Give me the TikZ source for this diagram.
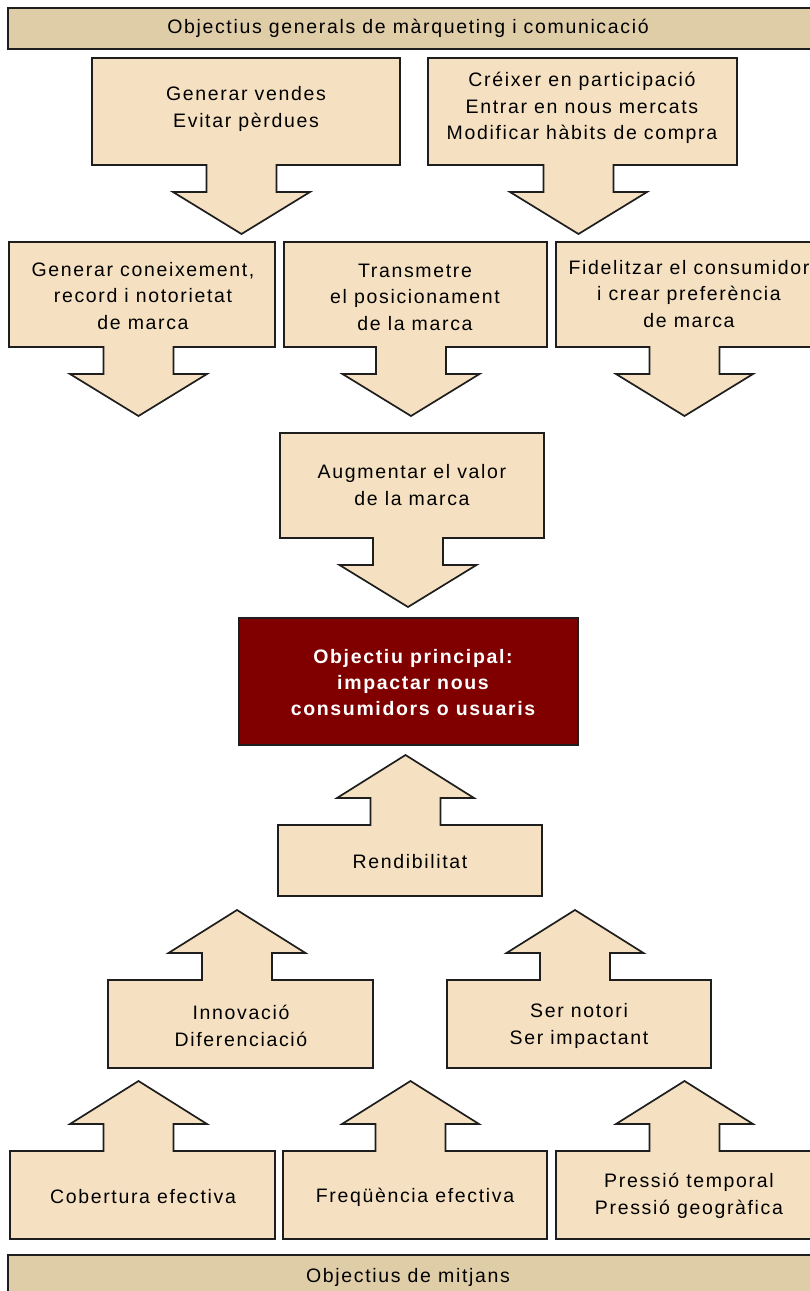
\documentclass[tikz,border=0pt]{standalone}
\usepackage{fontspec}
\setmainfont{Liberation Sans}[LetterSpace=8.5]
\definecolor{boxfill}{HTML}{F5E1C1}
\definecolor{barfill}{HTML}{DFCDA8}
\definecolor{mainred}{HTML}{800000}
\definecolor{edgecol}{HTML}{1E1E1E}
\tikzset{
  shapebox/.style={draw=edgecol, fill=boxfill, line width=1.7pt, line join=miter},
  barbox/.style={draw=edgecol, fill=barfill, line width=1.7pt},
  redbox/.style={draw=edgecol, fill=mainred, line width=1.7pt},
  txt/.style={align=center, inner sep=0pt, text=black, font=\fontsize{19.5}{26.5}\selectfont},
  redtxt/.style={align=center, inner sep=0pt, text=white, font=\fontsize{19.5}{26}\selectfont\bfseries},
}
% down-arrow box: left, top, right, bottom, arrow centre x
\newcommand\downbox[5]{%
  \draw[shapebox] (#1,#2) -- (#3,#2) -- (#3,#4) -- (#5+35,#4) -- (#5+35,#4+27)
    -- (#5+68.5,#4+27) -- (#5,#4+69) -- (#5-68.5,#4+27) -- (#5-35,#4+27)
    -- (#5-35,#4) -- (#1,#4) -- cycle;}
% up-arrow box: left, top, right, bottom, arrow centre x
\newcommand\upbox[5]{%
  \draw[shapebox] (#1,#4) -- (#3,#4) -- (#3,#2) -- (#5+35,#2) -- (#5+35,#2-27)
    -- (#5+68.5,#2-27) -- (#5,#2-70) -- (#5-68.5,#2-27) -- (#5-35,#2-27)
    -- (#5-35,#2) -- (#1,#2) -- cycle;}
\begin{document}
\begin{tikzpicture}[x=1pt, y=-1pt]
\useasboundingbox (0,0) rectangle (810,1291);
\clip (0,0) rectangle (810,1291);
\fill[white] (0,0) rectangle (810,1291);

% top bar
\draw[barbox] (8,8) rectangle (830,49);
\node[txt] (top) at (408,28) {Objectius generals de màrqueting i comunicació};

% row 1
\downbox{92}{58}{400}{165}{241.5}
\node[txt] (a) at (246,109) {Generar vendes\\Evitar pèrdues};
\downbox{428}{58}{737}{165}{578.5}
\node[txt] (b) at (582,108) {Créixer en participació\\Entrar en nous mercats\\Modificar hàbits de compra};

% row 2
\downbox{9}{242}{275}{347}{138.5}
\node[txt] (c) at (143,296) {Generar coneixement,\\record i notorietat\\de marca};
\downbox{284}{242}{547}{347}{411}
\node[txt] (d) at (415,297) {Transmetre\\el posicionament\\de la marca};
\downbox{556}{242}{822}{347}{684.5}
\node[txt] (e) at (689,294) {Fidelitzar el consumidor\\i crear preferència\\de marca};

% row 3
\downbox{280}{433}{544}{538}{408}
\node[txt] (f) at (412,485) {Augmentar el valor\\de la marca};

% main objective
\draw[redbox] (239,618) rectangle (578,745);
\node[redtxt] (main) at (413,683) {Objectiu principal:\\impactar nous\\consumidors o usuaris};

% rendibilitat
\upbox{278}{825}{542}{896}{405.5}
\node[txt] (g) at (410,862) {Rendibilitat};

% row 5
\upbox{108}{980}{373}{1068}{237}
\node[txt] (h) at (241,1026) {Innovació\\Diferenciació};
\upbox{447}{980}{711}{1068}{575}
\node[txt] (i) at (579,1026) {Ser notori\\Ser impactant};

% row 6
\upbox{10}{1151}{275}{1239}{138.5}
\node[txt] (j) at (143,1197) {Cobertura efectiva};
\upbox{283}{1151}{547}{1239}{410.5}
\node[txt] (k) at (415,1197) {Freqüència efectiva};
\upbox{556}{1151}{822}{1239}{684.5}
\node[txt] (l) at (689,1196) {Pressió temporal\\Pressió geogràfica};

% bottom bar
\draw[barbox] (8,1255) rectangle (830,1310);
\node[txt] (bottom) at (408,1277) {Objectius de mitjans};
\end{tikzpicture}
\end{document}
